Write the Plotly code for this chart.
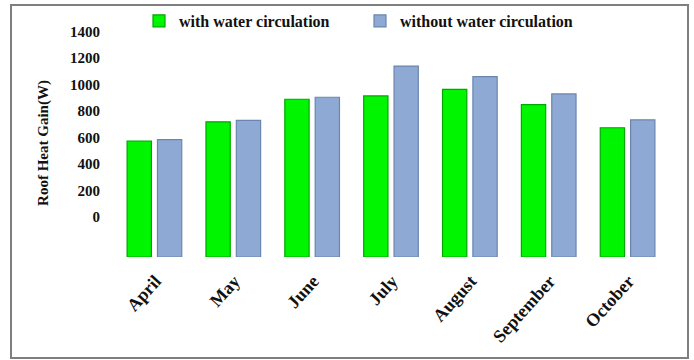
import plotly.graph_objects as go

# ---- data ----
months = ["April", "May", "June", "July", "August", "September", "October"]
with_water = [575, 720, 890, 915, 965, 850, 675]
without_water = [585, 730, 905, 1140, 1060, 930, 735]
y_ticks = [0, 200, 400, 600, 800, 1000, 1200, 1400]
floor_value = -300          # 3-D chart floor sits below the 0 label
y_top = 1420

W, H = 694, 360
ML, MR, MT, MB = 115, 27, 29, 103
PW, PH = W - ML - MR, H - MT - MB

SERIF = "Liberation Serif, Times New Roman, serif"

fig = go.Figure()
fig.add_trace(go.Bar(
    name="with water circulation",
    x=months,
    y=[v - floor_value for v in with_water],
    base=floor_value,
    marker=dict(color="#00F500", line=dict(color="#00A800", width=1.2)),
))
fig.add_trace(go.Bar(
    name="without water circulation",
    x=months,
    y=[v - floor_value for v in without_water],
    base=floor_value,
    marker=dict(color="#8EA9D3", line=dict(color="#6B86AE", width=1.2)),
))

def px_x(px):
    return (px - ML) / PW

def px_y(py):
    return (H - MB - py) / PH

fig.update_layout(
    width=W, height=H,
    margin=dict(l=ML, r=MR, t=MT, b=MB, autoexpand=False),
    paper_bgcolor="white", plot_bgcolor="white",
    barmode="group", bargap=0.23, bargroupgap=0.2,
    font=dict(family=SERIF, color="#111111"),
    showlegend=True,
    legend=dict(
        orientation="h",
        x=px_x(139), xanchor="left",
        y=px_y(21), yanchor="middle",
        font=dict(family=SERIF, size=16, weight="bold", color="#111111"),
        entrywidth=176, entrywidthmode="pixels",
        bgcolor="rgba(0,0,0,0)",
        traceorder="normal",
    ),
    xaxis=dict(
        showgrid=False, showline=False, zeroline=False, ticks="",
        tickangle=-48,
        tickfont=dict(family=SERIF, size=18, weight="bold", color="#111111"),
        ticklabelstandoff=9,
        ticklabelshift=1,
    ),
    yaxis=dict(
        range=[floor_value, y_top],
        showgrid=False, showline=False, zeroline=False, ticks="",
        tickvals=y_ticks,
        ticktext=[str(v) for v in y_ticks],
        tickfont=dict(family=SERIF, size=15, weight="bold", color="#111111"),
        ticklabelstandoff=14,
        title=dict(text="Roof Heat Gain(W)", standoff=17,
                   font=dict(family=SERIF, size=15, weight="bold", color="#111111")),
    ),
    shapes=[dict(
        type="rect", xref="paper", yref="paper",
        x0=px_x(11), x1=px_x(688), y0=px_y(358), y1=px_y(5),
        line=dict(color="#7F7F7F", width=2), fillcolor="rgba(0,0,0,0)",
        layer="below",
    )],
)

fig.write_html(
    "out.html",
    config={"displayModeBar": False},
    post_script="document.body.style.margin='0';document.body.style.overflow='hidden';",
)
